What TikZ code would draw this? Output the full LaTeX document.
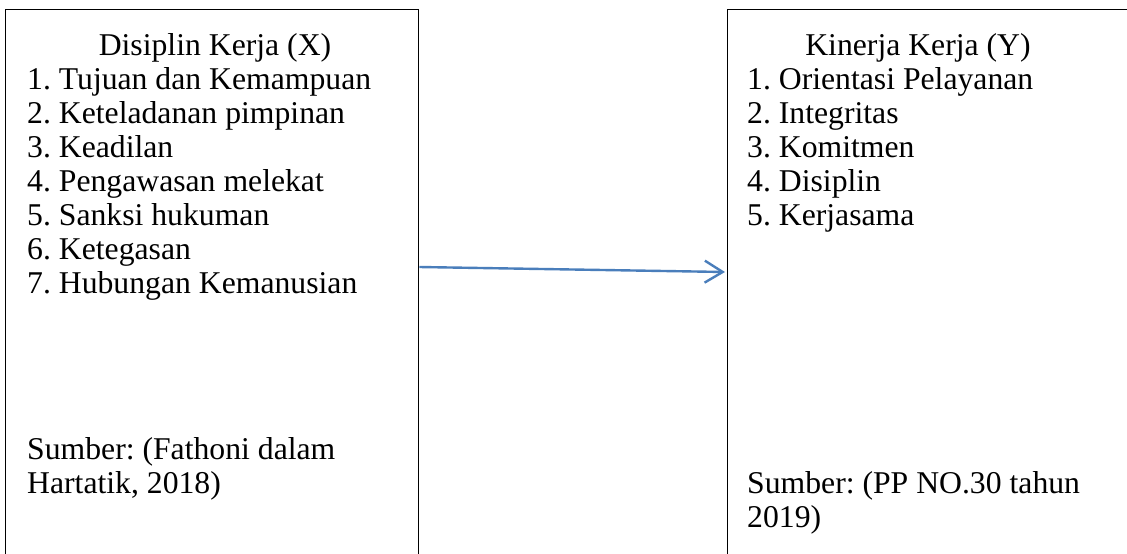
\documentclass[tikz,border=0pt]{standalone}
\usepackage{fontspec}
\setmainfont{Liberation Serif}
\frenchspacing
\usetikzlibrary{arrows.meta}
\definecolor{arrowblue}{RGB}{74,126,187}
\tikzset{
  framebox/.style={draw=black, line width=1.4pt, rectangle, inner sep=0pt},
  txt/.style={inner sep=0pt, font=\fontsize{31.7}{35}\selectfont},
  conn/.style={draw=arrowblue, line width=2.4pt, -{Straight Barb[length=18pt,width=22pt,line width=2.4pt]}}
}
\begin{document}
\begin{tikzpicture}[x=1pt,y=-1pt]
\useasboundingbox (0,0) rectangle (1127,554);
\clip (0,0) rectangle (1127,554);
\node[framebox, anchor=north west, minimum width=413pt, minimum height=600pt] (X) at (5,9) {};
\node[framebox, anchor=north west, minimum width=430pt, minimum height=600pt] (Y) at (727,9) {};
% left box texts
\node[txt, anchor=base] (xt) at (215,55) {Disiplin Kerja (X)};
\node[txt, anchor=base west] (x1) at (27,89) {1. Tujuan dan Kemampuan};
\node[txt, anchor=base west] (x2) at (27,123) {2. Keteladanan pimpinan};
\node[txt, anchor=base west] (x3) at (27,157) {3. Keadilan};
\node[txt, anchor=base west] (x4) at (27,191) {4. Pengawasan melekat};
\node[txt, anchor=base west] (x5) at (27,225) {5. Sanksi hukuman};
\node[txt, anchor=base west] (x6) at (27,259) {6. Ketegasan};
\node[txt, anchor=base west] (x7) at (27,293) {7. Hubungan Kemanusian};
\node[txt, anchor=base west] (xs1) at (27,459) {Sumber: (Fathoni dalam};
\node[txt, anchor=base west] (xs2) at (27,493) {Hartatik, 2018)};
% right box texts
\node[txt, anchor=base] (yt) at (918,55) {Kinerja Kerja (Y)};
\node[txt, anchor=base west] (y1) at (747,89) {1. Orientasi Pelayanan};
\node[txt, anchor=base west] (y2) at (747,123) {2. Integritas};
\node[txt, anchor=base west] (y3) at (747,157) {3. Komitmen};
\node[txt, anchor=base west] (y4) at (747,191) {4. Disiplin};
\node[txt, anchor=base west] (y5) at (747,225) {5. Kerjasama};
\node[txt, anchor=base west] (ys1) at (747,493) {Sumber: (PP NO.30 tahun};
\node[txt, anchor=base west] (ys2) at (747,527) {2019)};
% connector
\draw[conn] ([yshift=-258pt]X.north east) -- ([xshift=-2pt,yshift=-263pt]Y.north west);
\end{tikzpicture}
\end{document}
